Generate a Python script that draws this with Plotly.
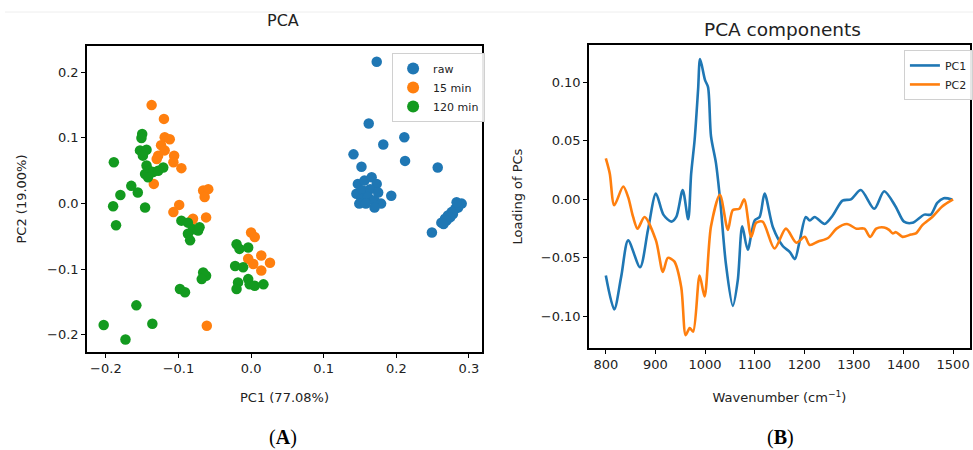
import plotly.graph_objects as go

# ---- PCA scores (PC1, PC2) per treatment ----
raw_pc1 = [0.173, 0.162, 0.182, 0.211, 0.141, 0.212, 0.257, 0.152,
           0.147, 0.156, 0.166, 0.173, 0.145, 0.154, 0.164, 0.175, 0.152, 0.161,
           0.170, 0.179, 0.149, 0.158, 0.170, 0.193,
           0.290, 0.285, 0.281, 0.276, 0.271, 0.267, 0.262, 0.278, 0.274, 0.269,
           0.265, 0.283, 0.249]
raw_pc2 = [0.216, 0.122, 0.090, 0.101, 0.075, 0.065, 0.055, 0.056,
           0.030, 0.035, 0.040, 0.030, 0.015, 0.020, 0.022, 0.017, 0.007, 0.010,
           0.005, 0.000, 0.000, 0.000, -0.006, 0.012,
           0.000, -0.006, -0.008, -0.013, -0.018, -0.023, -0.029, -0.016, -0.021,
           -0.026, -0.031, 0.002, -0.044]

min15_pc1 = [-0.137, -0.120, -0.119, -0.112, -0.124, -0.128, -0.130, -0.119, -0.106,
             -0.107, -0.096, -0.134, -0.066, -0.059, -0.064, -0.099, -0.107, -0.080,
             -0.062, -0.082, 0.000, 0.005, -0.004, 0.003, 0.014, 0.026, 0.014, -0.061]
min15_pc2 = [0.150, 0.129, 0.101, 0.098, 0.089, 0.073, 0.068, 0.081, 0.073,
             0.063, 0.054, 0.030, 0.020, 0.022, 0.010, -0.002, -0.013, -0.023,
             -0.021, -0.026, -0.044, -0.051, -0.084, -0.092, -0.079, -0.090, -0.102, -0.186]

min120_pc1 = [-0.150, -0.151, -0.153, -0.144, -0.149, -0.189, -0.144, -0.140, -0.146,
              -0.135, -0.121, -0.128, -0.142, -0.165, -0.156, -0.180, -0.190, -0.146,
              -0.186, -0.096, -0.087, -0.080, -0.087, -0.073, -0.084, -0.071, -0.020,
              -0.016, -0.004, -0.022, -0.011, -0.066, -0.062, -0.068, -0.098, -0.091,
              -0.018, -0.020, -0.004, -0.002, 0.005, 0.017, -0.158, -0.203, -0.136, -0.173]
min120_pc2 = [0.106, 0.100, 0.081, 0.082, 0.073, 0.063, 0.058, 0.050, 0.045,
              0.048, 0.055, 0.050, 0.040, 0.027, 0.017, 0.013, -0.004, -0.006,
              -0.033, -0.026, -0.029, -0.039, -0.046, -0.041, -0.056, -0.036, -0.062,
              -0.069, -0.067, -0.095, -0.097, -0.105, -0.110, -0.115, -0.130, -0.135,
              -0.120, -0.130, -0.115, -0.123, -0.125, -0.123, -0.155, -0.185, -0.183, -0.207]

# ---- PCA loadings vs wavenumber ----
pc1_wn = [800, 817, 831, 845, 869, 885, 901, 916, 932, 942, 955, 966, 972, 979, 986,
          990, 1000, 1006, 1012, 1022, 1031, 1042, 1056, 1066, 1075, 1086, 1100, 1110,
          1120, 1137, 1157, 1171, 1181, 1191, 1203, 1211, 1221, 1241, 1257, 1277, 1294,
          1314, 1341, 1361, 1384, 1401, 1418, 1442, 1455, 1468, 1481, 1498]
pc1_load = [-0.065, -0.094, -0.066, -0.035, -0.058, -0.026, 0.005, -0.013, -0.019,
            -0.015, 0.008, -0.017, 0.022, 0.051, 0.094, 0.120, 0.102, 0.096, 0.054,
            0.031, -0.003, -0.055, -0.091, -0.069, -0.023, -0.043, -0.018, -0.015,
            0.005, -0.024, -0.040, -0.045, -0.051, -0.035, -0.015, -0.018, -0.015,
            -0.021, -0.014, -0.001, 0.000, 0.008, -0.008, 0.007, -0.006, -0.019,
            -0.020, -0.013, -0.013, -0.003, 0.001, 0.000]

pc2_wn = [800, 808, 817, 835, 845, 855, 864, 878, 901, 915, 925, 938, 952, 961, 969,
          976, 989, 999, 1012, 1030, 1046, 1056, 1069, 1079, 1093, 1103, 1116, 1140,
          1163, 1184, 1201, 1211, 1228, 1248, 1265, 1286, 1305, 1321, 1333, 1345, 1361,
          1371, 1378, 1385, 1398, 1415, 1425, 1438, 1458, 1478, 1500]
pc2_load = [0.035, 0.022, -0.005, 0.011, 0.002, -0.015, -0.025, -0.015, -0.035,
            -0.062, -0.050, -0.053, -0.075, -0.116, -0.110, -0.113, -0.065, -0.083,
            -0.023, 0.004, -0.026, -0.009, -0.008, 0.000, -0.032, -0.020, -0.019,
            -0.042, -0.025, -0.037, -0.032, -0.039, -0.036, -0.033, -0.025, -0.021,
            -0.025, -0.025, -0.032, -0.025, -0.024, -0.026, -0.029, -0.028, -0.032,
            -0.030, -0.029, -0.022, -0.015, -0.006, 0.000]

BLUE, ORANGE, GREEN = "#1f77b4", "#ff7f0e", "#139a1f"
FONT = "DejaVu Sans"
W, H = 973, 450

fig = go.Figure()

for xs, ys, name, col in [(raw_pc1, raw_pc2, "raw", BLUE),
                          (min15_pc1, min15_pc2, "15 min", ORANGE),
                          (min120_pc1, min120_pc2, "120 min", GREEN)]:
    fig.add_trace(go.Scatter(x=xs, y=ys, mode="markers", name=name,
                             marker=dict(color=col, size=10.5, line=dict(width=0)),
                             xaxis="x", yaxis="y", legend="legend"))

for xs, ys, name, col in [(pc1_wn, pc1_load, "PC1", BLUE),
                          (pc2_wn, pc2_load, "PC2", ORANGE)]:
    fig.add_trace(go.Scatter(x=xs, y=ys, mode="lines", name=name,
                             line=dict(color=col, width=2.6, shape="spline", smoothing=0.8),
                             xaxis="x2", yaxis="y2", legend="legend2"))

axis_common = dict(showline=True, linecolor="black", linewidth=1.5, mirror=True,
                   ticks="outside", ticklen=4, tickwidth=1.2, tickcolor="black",
                   showgrid=False, zeroline=False,
                   tickfont=dict(family=FONT, size=13, color="#222"))
title_font = dict(family=FONT, size=13, color="#222")


def label(text, px, py, size, family=FONT, color="#222"):
    return dict(text=text, x=px / W, y=1 - py / H, xref="paper", yref="paper",
                xanchor="center", yanchor="middle", showarrow=False,
                font=dict(family=family, size=size, color=color))


fig.update_layout(
    width=W, height=H,
    margin=dict(l=0, r=0, t=0, b=0),
    paper_bgcolor="white", plot_bgcolor="white",
    showlegend=True,
    xaxis=dict(domain=[0.0894, 0.4954], range=[-0.226, 0.318],
               tickvals=[-0.2, -0.1, 0.0, 0.1, 0.2, 0.3],
               ticktext=["\u22120.2", "\u22120.1", "0.0", "0.1", "0.2", "0.3"],
               title=dict(text="PC1 (77.08%)", font=title_font, standoff=18),
               anchor="y", **axis_common),
    yaxis=dict(domain=[0.2178, 0.8978], range=[-0.226, 0.24],
               tickvals=[-0.2, -0.1, 0.0, 0.1, 0.2],
               ticktext=["\u22120.2", "\u22120.1", "0.0", "0.1", "0.2"],
               title=dict(text="PC2 (19.00%)", font=title_font, standoff=18),
               anchor="x", **axis_common),
    xaxis2=dict(domain=[0.6053, 0.9969], range=[766, 1534],
                tickvals=[800, 900, 1000, 1100, 1200, 1300, 1400, 1500],
                title=dict(text="Wavenumber (cm<sup>\u22121</sup>)", font=title_font,
                           standoff=22),
                anchor="y2", **axis_common),
    yaxis2=dict(domain=[0.2267, 0.9], range=[-0.127, 0.132],
                tickvals=[-0.10, -0.05, 0.0, 0.05, 0.10],
                ticktext=["\u22120.10", "\u22120.05", "0.00", "0.05", "0.10"],
                title=dict(text="Loading of PCs", font=title_font, standoff=15),
                anchor="x2", **axis_common),
    legend=dict(x=0.403, y=0.882, xanchor="left", yanchor="top",
                bgcolor="rgba(255,255,255,0.9)", bordercolor="#d0d0d0", borderwidth=1,
                font=dict(family=FONT, size=11, color="#222"), itemsizing="constant",
                tracegroupgap=2),
    legend2=dict(x=0.929, y=0.889, xanchor="left", yanchor="top",
                 bgcolor="rgba(255,255,255,0.9)", bordercolor="#d0d0d0", borderwidth=1,
                 font=dict(family=FONT, size=11, color="#222"), itemwidth=30,
                 tracegroupgap=0),
    annotations=[
        label("PCA", 283, 21, 16),
        label("PCA components", 782, 30, 18.5),
        label("(<b>A</b>)", 283, 437, 20, family="Liberation Serif", color="black"),
        label("(<b>B</b>)", 780, 437, 20, family="Liberation Serif", color="black"),
    ],
    shapes=[dict(type="line", xref="paper", yref="paper", x0=5 / W, x1=1,
                 y0=1 - 12 / H, y1=1 - 12 / H, line=dict(color="#eeeeee", width=1))],
)

fig.write_html("out.html")
